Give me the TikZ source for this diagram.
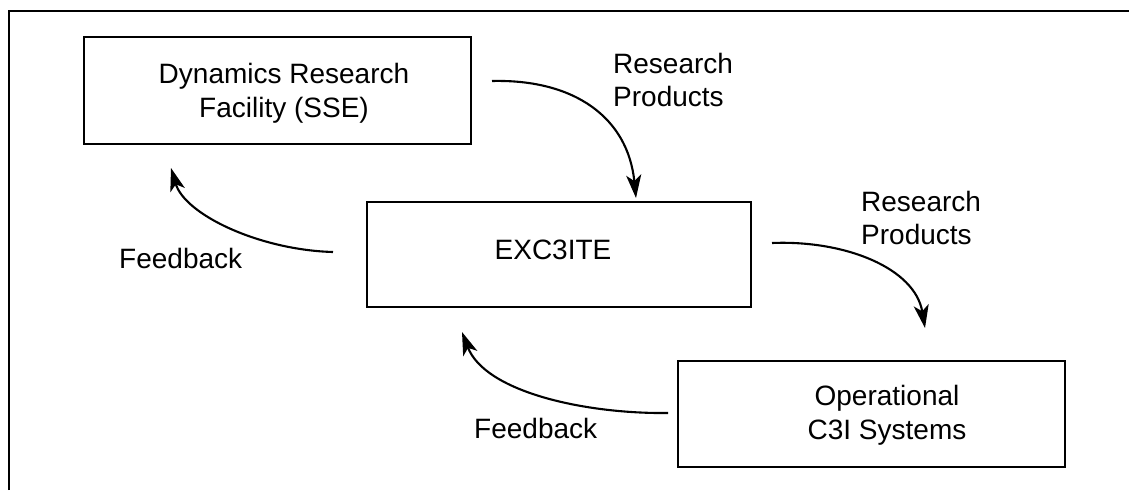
\documentclass[tikz,border=0pt]{standalone}
\usepackage{fontspec}
\setmainfont{Liberation Sans}
\usetikzlibrary{arrows.meta}
\begin{document}
\begin{tikzpicture}[x=1pt,y=-1pt,
  box/.style={draw,line width=2pt,inner sep=0pt},
  txt/.style={align=center,inner sep=0pt,font=\fontsize{28}{34}\selectfont},
  lbl/.style={align=left,inner sep=0pt,anchor=north west,font=\fontsize{28}{33}\selectfont},
  arr/.style={line width=2.1pt,-{Stealth[length=23pt,width=15pt,inset=6pt]}}]
\useasboundingbox (0,0) rectangle (1129,490);
\draw[line width=1.6pt] (9,490) -- (9,11) -- (1129,11);
% boxes
\node[box,minimum width=387pt,minimum height=107pt] (drf) at (277.5,90.5) {};
\node[txt] (drft) at (284,93) {Dynamics Research\\Facility (SSE)};
\node[box,minimum width=384pt,minimum height=105pt] (exc) at (559,254.5) {};
\node[txt,anchor=base] (exct) at (553,259) {EXC3ITE};
\node[box,minimum width=387pt,minimum height=106pt] (ops) at (871.5,414) {};
\node[txt] (opst) at (887,415) {Operational\\C3I Systems};
% labels
\node[lbl] (rp1) at (613,53) {Research\\Products};
\node[lbl] (rp2) at (861,191) {Research\\Products};
\node[lbl] (fb1) at (119,248) {Feedback};
\node[lbl] (fb2) at (474,418) {Feedback};
% connector end points
\coordinate (a1s) at (492,81);
\coordinate (a1e) at (636,198);
\coordinate (a2s) at (772,243);
\coordinate (a2e) at (925,328);
\coordinate (f1s) at (333,252);
\coordinate (f1e) at (171,168);
\coordinate (f2s) at (668,413);
\coordinate (f2e) at (462,332);
\draw[arr] (a1s) .. controls (575,79) and (628,118) .. (a1e);
\draw[arr] (a2s) .. controls (845,240) and (915,268) .. (a2e);
\draw[arr] (f1s) .. controls (260,250) and (185,215) .. (f1e);
\draw[arr] (f2s) .. controls (585,414) and (485,392) .. (f2e);
\end{tikzpicture}
\end{document}
